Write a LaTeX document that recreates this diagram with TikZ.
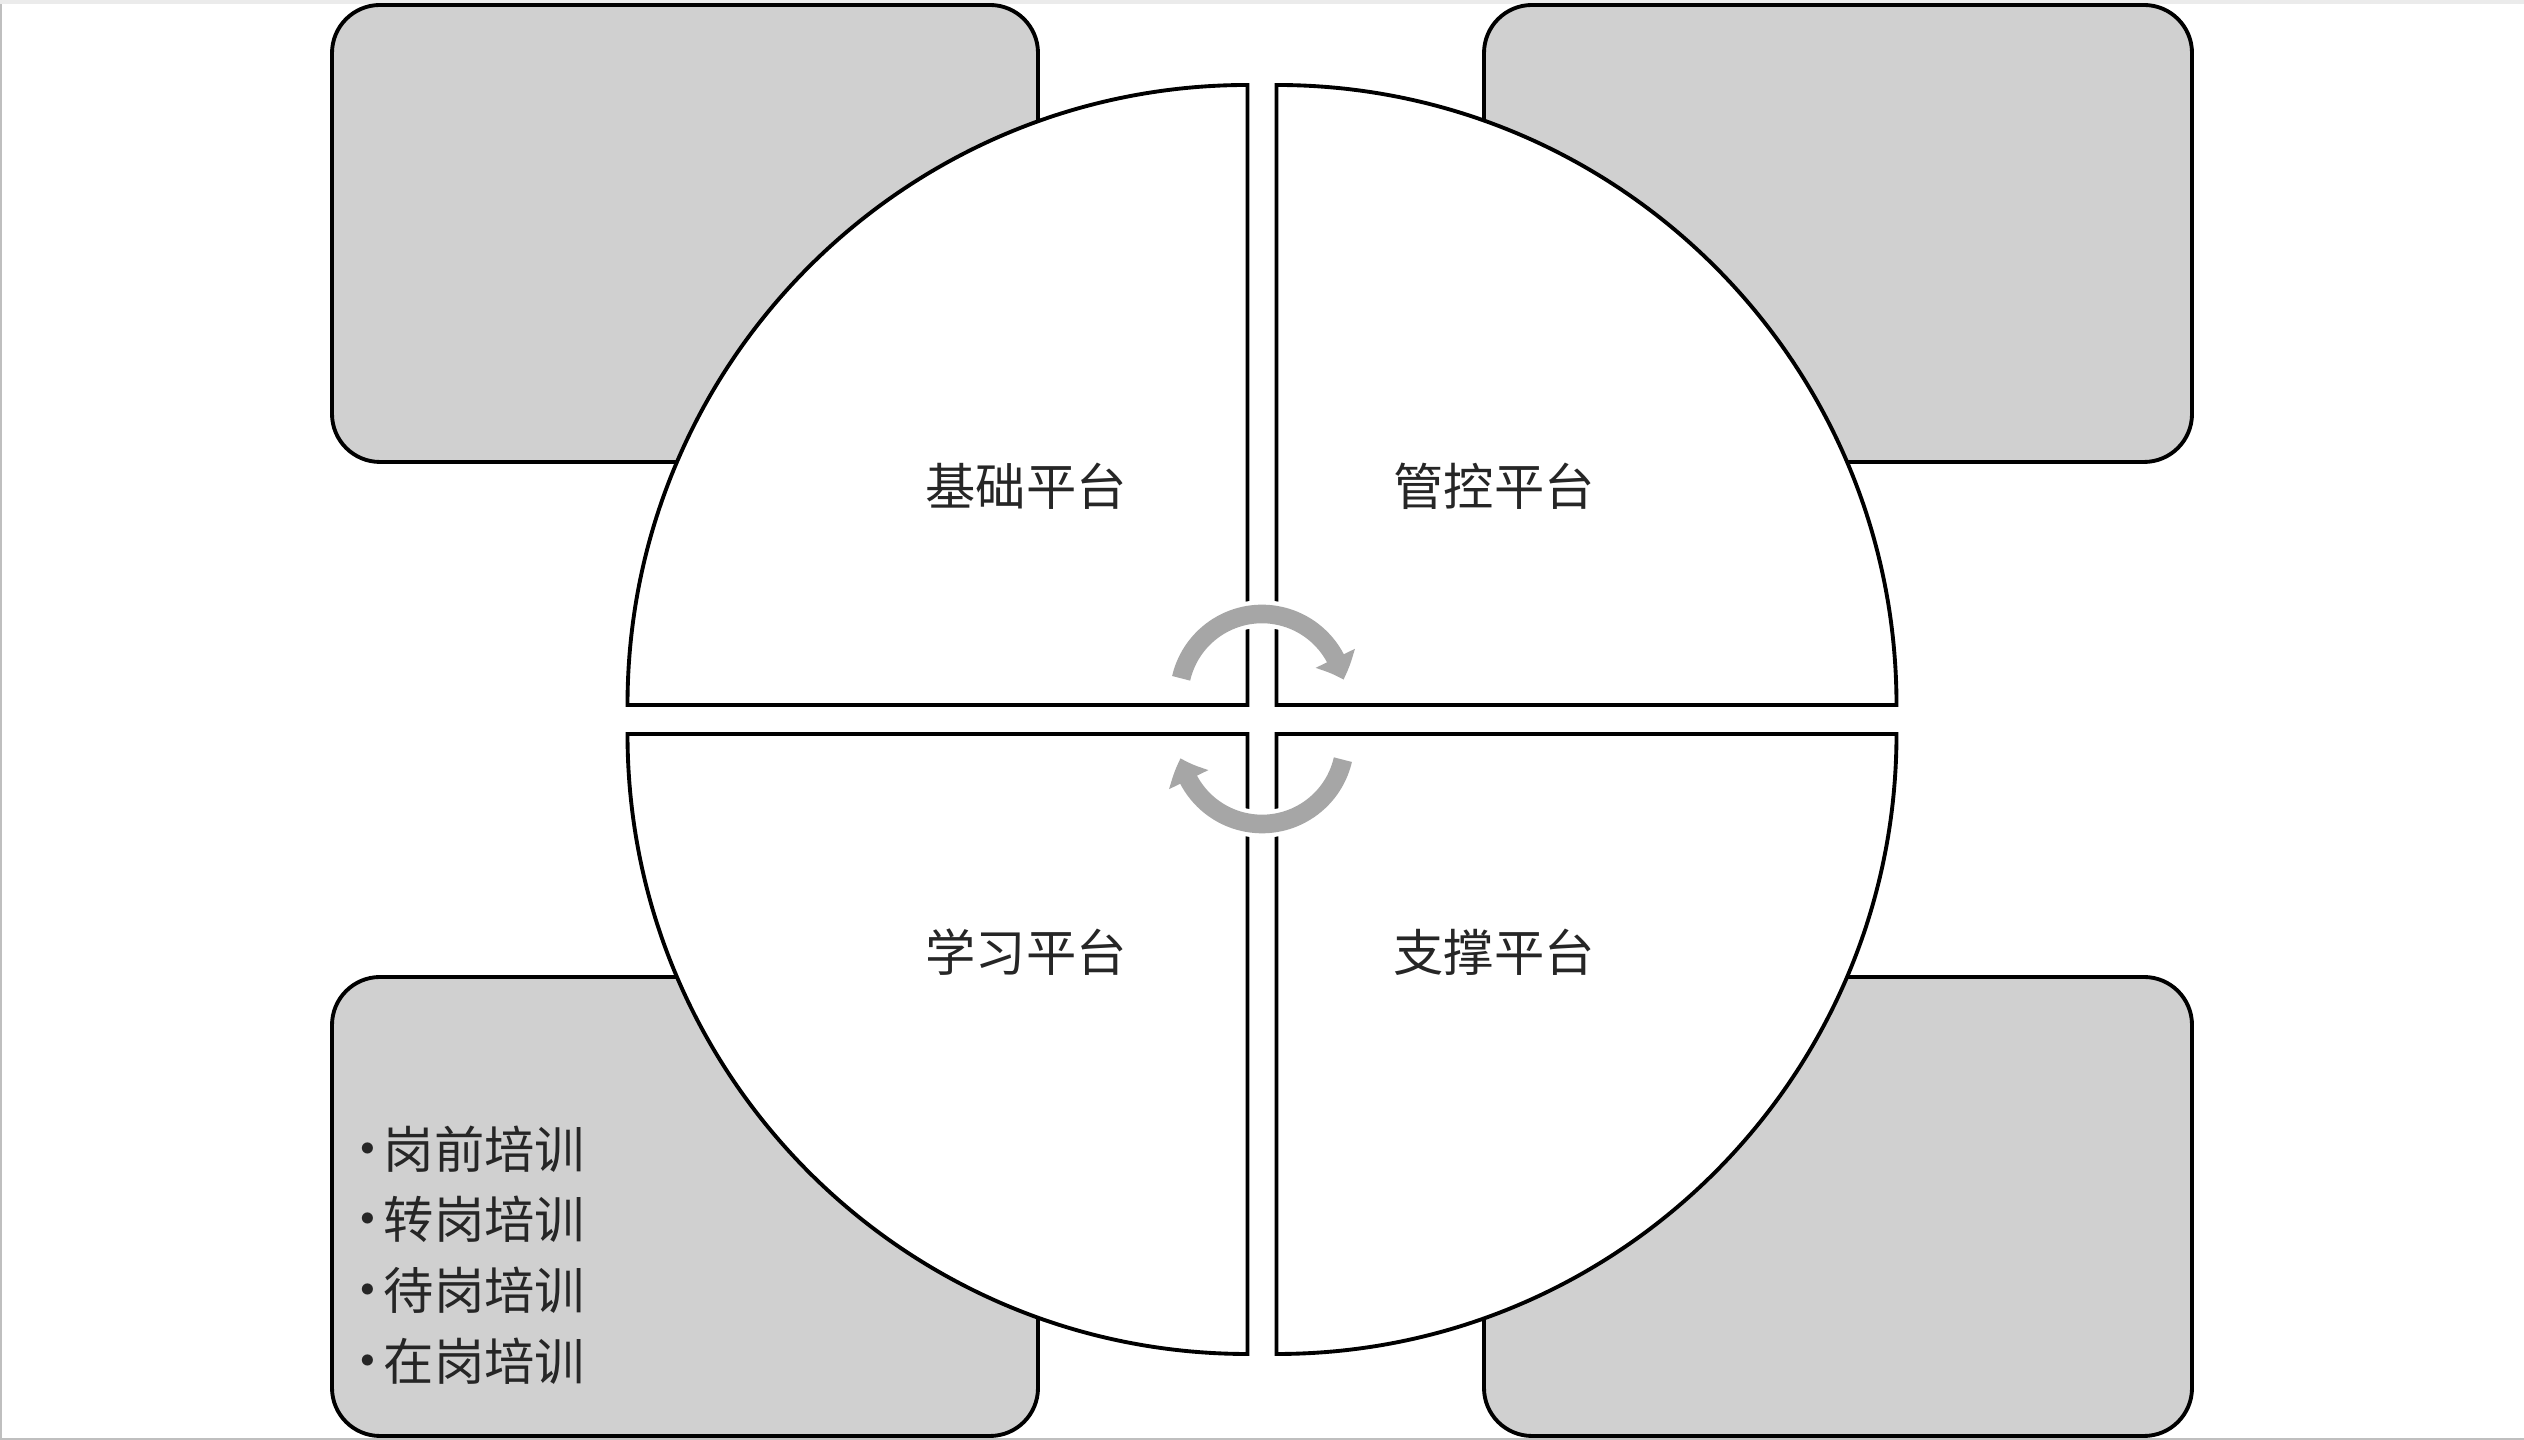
\documentclass[tikz,border=0pt]{standalone}
\usepackage{fontspec}
\setmainfont{Noto Sans CJK SC}
\usetikzlibrary{arrows.meta,bending}
\definecolor{boxgray}{HTML}{D0D0D0}
\definecolor{arrowgray}{HTML}{A6A6A6}
\newcommand{\bulletmark}{\makebox[4.6pt][c]{\fontsize{15pt}{15pt}\selectfont •}\hspace{2.3pt}}
\tikzset{
  sidebox/.style={draw=black, line width=1.1pt, fill=boxgray, rounded corners=0.48cm},
  quarter/.style={draw=black, line width=1.1pt, fill=white},
  label/.style={font=\fontsize{14.3pt}{20.1pt}\selectfont, text=black!85, inner sep=0pt},
  cyclearrow/.style={draw=arrowgray, line width=5.3pt, -{Triangle[width=12pt,length=6.5pt,bend]}},
  halo/.style={draw=white, line width=7.8pt},
}
\begin{document}
\begin{tikzpicture}[x=0.01cm,y=0.01cm]
\useasboundingbox (0,0) rectangle (2524,1440);
% slide frame
\draw[draw=black!25, line width=1pt] (0.5,1440) -- (0.5,0.5) -- (2524,0.5);
\draw[draw=black!8, line width=1.5pt] (0,1439) -- (2524,1439);
% side boxes
\path[sidebox] (332,978) rectangle (1038,1435);
\path[sidebox] (1484,978) rectangle (2192,1435);
\path[sidebox] (332,4) rectangle (1038,463);
\path[sidebox] (1484,4) rectangle (2192,463);
% quarter discs
\path[quarter] (1247.5,735) -- ++(-620,0) arc[start angle=180,end angle=90,radius=620] -- cycle;
\path[quarter] (1276.5,735) -- ++(0,620) arc[start angle=90,end angle=0,radius=620] -- cycle;
\path[quarter] (1247.5,706) -- ++(0,-620) arc[start angle=270,end angle=180,radius=620] -- cycle;
\path[quarter] (1276.5,706) -- ++(620,0) arc[start angle=0,end angle=-90,radius=620] -- cycle;
% labels
\node[label] (jc) at (1026,954) {基础平台};
\node[label] (gk) at (1494,954) {管控平台};
\node[label] (xx) at (1026,488) {学习平台};
\node[label] (zc) at (1494,488) {支撑平台};
% bullet list
\node[label, anchor=north west, align=left] (list) at (359,315)
  {\bulletmark 岗前培训\\
   \bulletmark 转岗培训\\
   \bulletmark 待岗培训\\
   \bulletmark 在岗培训};
% cycle arrows
\coordinate (ua) at (1262,743);
\coordinate (la) at (1262,699);
\draw[halo] ([shift={(167:83)}]ua) arc[start angle=167,end angle=20,radius=83];
\draw[cyclearrow] ([shift={(167:83)}]ua) arc[start angle=167,end angle=12,radius=83];
\draw[halo] ([shift={(-13:83)}]la) arc[start angle=-13,end angle=-160,radius=83];
\draw[cyclearrow] ([shift={(-13:83)}]la) arc[start angle=-13,end angle=-168,radius=83];
\end{tikzpicture}
\end{document}
